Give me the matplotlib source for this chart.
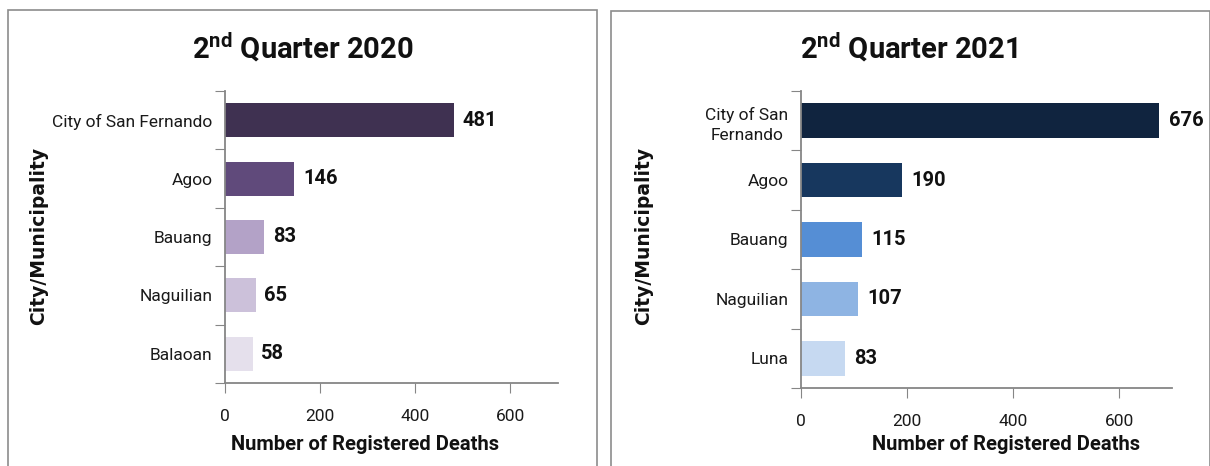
import matplotlib
matplotlib.use("Agg")
import matplotlib.pyplot as plt
from matplotlib.patches import Rectangle
import numpy as np

# data
names_2020 = ["City of San Fernando", "Agoo", "Bauang", "Naguilian", "Balaoan"]
deaths_2020 = [481, 146, 83, 65, 58]
colors_2020 = ["#3f3151", "#604a7b", "#b3a2c7", "#ccc1da", "#e5e0ec"]

names_2021 = ["City of San\nFernando", "Agoo", "Bauang", "Naguilian", "Luna"]
deaths_2021 = [676, 190, 115, 107, 83]
colors_2021 = ["#10243f", "#17375e", "#558ed5", "#8eb4e3", "#c6d9f1"]

xticks = [0, 200, 400, 600]

plt.rcParams["font.family"] = ["Roboto", "DejaVu Sans"]

fig = plt.figure(figsize=(12.1, 4.66), dpi=100)

# panel borders
for x0, x1, y1 in [(8, 597, 10), (611, 1210, 11)]:
    fig.patches.append(Rectangle((x0 / 1210, -0.01), (x1 - x0) / 1210, 1 - y1 / 466 + 0.01,
                                 transform=fig.transFigure, fill=False,
                                 edgecolor="#8c8c8c", lw=1.2))


def draw(ax, names, vals, cols, title, title_x, ylab_x, xlab_x):
    n = len(names)
    pos = np.arange(n)[::-1]
    ax.barh(pos, vals, height=0.58, color=cols, edgecolor="none")
    for p, v in zip(pos, vals):
        ax.text(v + 18, p, str(v), ha="left", va="center", fontsize=14.5,
                fontweight="bold", color="#111111")
    ax.set_xlim(0, 700)
    ax.set_ylim(-0.5, n - 0.5)
    ax.set_xticks(xticks)
    ax.set_xticklabels([str(t) for t in xticks], fontsize=12.5, color="#1a1a1a")
    ax.set_yticks(np.arange(n + 1) - 0.5)
    ax.set_yticklabels([])
    ax.set_yticks(pos, minor=True)
    ax.set_yticklabels(names, minor=True, fontsize=12.5, color="#1a1a1a",
                       multialignment="center", linespacing=1.45)
    ax.tick_params(axis="y", which="minor", length=0, pad=9)
    ax.tick_params(axis="y", which="major", length=7, color="#868686")
    ax.tick_params(axis="x", length=7, color="#868686", pad=12)
    for s in ["top", "right"]:
        ax.spines[s].set_visible(False)
    for s in ["left", "bottom"]:
        ax.spines[s].set_color("#868686")
        ax.spines[s].set_linewidth(1.3)
    fig.text(title_x, 1 - 48 / 466, title, ha="center", va="center",
             fontsize=21, fontweight="bold", color="#111111")
    fig.text(ylab_x, 1 - 236 / 466, "City/Municipality", rotation=90,
             ha="center", va="center", fontsize=13.5, fontweight="bold",
             family="DejaVu Sans", color="#111111")
    fig.text(xlab_x, 1 - 445 / 466, "Number of Registered Deaths",
             ha="center", va="center", fontsize=14.5, fontweight="bold",
             color="#111111")


ax1 = fig.add_axes([225 / 1210, 1 - 383 / 466, 333 / 1210, 292 / 466])
draw(ax1, names_2020, deaths_2020, colors_2020,
     r"2$^{\mathregular{nd}}$ Quarter 2020", 303 / 1210, 39 / 1210, 365 / 1210)

ax2 = fig.add_axes([801 / 1210, 1 - 388 / 466, 371 / 1210, 297 / 466])
draw(ax2, names_2021, deaths_2021, colors_2021,
     r"2$^{\mathregular{nd}}$ Quarter 2021", 909 / 1210, 644 / 1210, 1006 / 1210)

fig.savefig("out.png", dpi=100)
